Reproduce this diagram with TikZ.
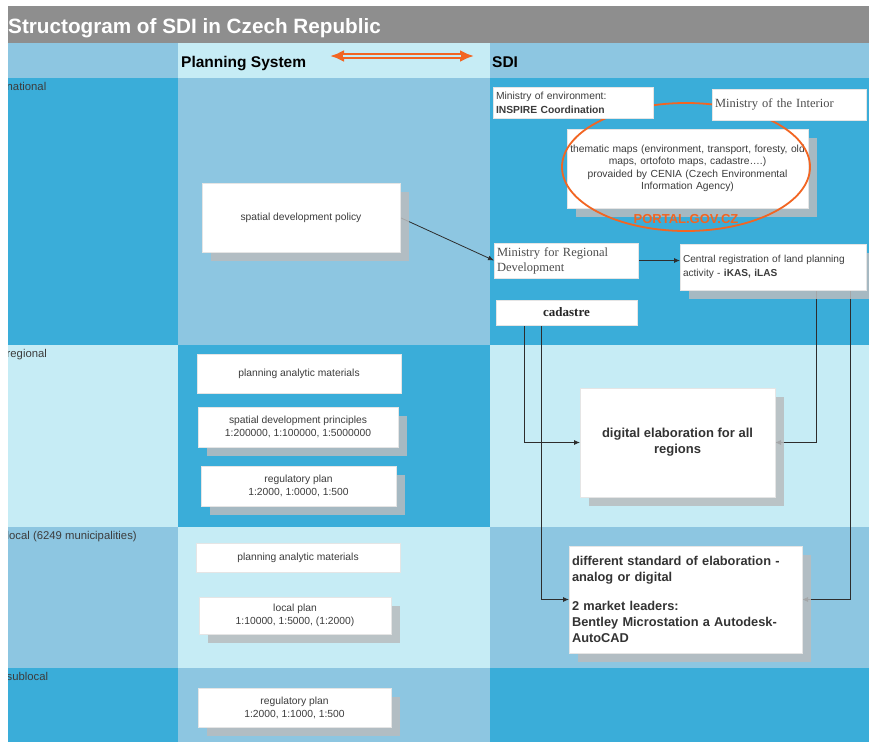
\documentclass[tikz,border=0pt]{standalone}
\usepackage{fontspec}
\setmainfont{Liberation Sans}
\newfontfamily\tnr{Liberation Serif}
\usetikzlibrary{shapes.geometric,shadows,arrows.meta}

\definecolor{cdark}{RGB}{58,173,217}
\definecolor{cmid}{RGB}{141,198,225}
\definecolor{clight}{RGB}{198,236,245}
\definecolor{ctitle}{RGB}{142,142,142}
\definecolor{cshadow}{RGB}{185,188,190}
\definecolor{corange}{RGB}{242,101,34}
\definecolor{ctext}{RGB}{60,60,60}
\definecolor{cline}{RGB}{45,45,45}

\pgfdeclarelayer{bg}
\pgfdeclarelayer{mid}
\pgfsetlayers{bg,mid,main}

\tikzset{
  lbl/.style={anchor=base west, inner sep=0pt, text=ctext, font=\fontsize{11.3}{13}\selectfont},
  hdr/.style={anchor=base west, inner sep=0pt, text=black, font=\bfseries\fontsize{15.5}{17}\selectfont},
  box/.style={rectangle, fill=white, draw=black!10, line width=0.4pt, inner sep=3pt,
              text=ctext, align=center, outer sep=0pt, font=\fontsize{10.3}{13}\selectfont},
  shad/.style={drop shadow={shadow xshift=9pt, shadow yshift=-9pt, fill=cshadow, opacity=0.85, draw=none}},
  serif/.style={font=\tnr\fontsize{12.5}{15}\selectfont, text=black!70},
  conn/.style={draw=cline, line width=0.8pt, -{Latex[length=6pt,width=5pt]}},
}

\begin{document}
\begin{tikzpicture}[x=1pt, y=-1pt]
\useasboundingbox (0,0) rectangle (869,742);

% ---------- table bands ----------
\begin{pgfonlayer}{bg}
  \fill[ctitle] (8,6) rectangle (869,43);
  % header row
  \fill[cmid]   (8,43)   rectangle (178,78);
  \fill[clight] (178,43) rectangle (490,78);
  \fill[cmid]   (490,43) rectangle (869,78);
  % national
  \fill[cdark]  (8,78)   rectangle (178,345);
  \fill[cmid]   (178,78) rectangle (490,345);
  \fill[cdark]  (490,78) rectangle (869,345);
  % regional
  \fill[clight] (8,345)   rectangle (178,527);
  \fill[cdark]  (178,345) rectangle (490,527);
  \fill[clight] (490,345) rectangle (869,527);
  % local
  \fill[cmid]   (8,527)   rectangle (178,668);
  \fill[clight] (178,527) rectangle (490,668);
  \fill[cmid]   (490,527) rectangle (869,668);
  % sublocal
  \fill[cdark]  (8,668)   rectangle (178,742);
  \fill[cmid]   (178,668) rectangle (490,742);
  \fill[cdark]  (490,668) rectangle (869,742);
\end{pgfonlayer}

% ---------- title and headers ----------
\node[anchor=base west, inner sep=0pt, text=white, font=\bfseries\fontsize{20.7}{23}\selectfont] (title) at (8,33) {Structogram of SDI in Czech Republic};
\node[hdr] (hplan) at (181,67) {Planning System};
\node[hdr] (hsdi) at (492,67) {SDI};

\coordinate (dl) at (330,56);
\coordinate (dr) at (474,56);
\draw[corange, line width=5.5pt, {Latex[length=14pt,width=12pt]}-{Latex[length=14pt,width=12pt]}] (dl) -- (dr);
\draw[clight, line width=1.8pt, shorten <=13pt, shorten >=13pt] (dl) -- (dr);

% ---------- row labels (first letter runs under the left margin) ----------
\begin{scope}
  \clip (8,78) rectangle (178,742);
  \node[lbl] (rnat) at (6.5,90) {national};
  \node[lbl] (rreg) at (6.5,357) {regional};
  \node[lbl] (rloc) at (6.5,539) {local (6249 municipalities)};
  \node[lbl] (rsub) at (6.5,680) {sublocal};
\end{scope}

% ---------- planning system ----------
\node[box, shad, minimum width=198pt, minimum height=69pt] (sdp) at (301,217.5) {spatial development policy};
\node[box, minimum width=204pt, minimum height=39pt] (rpam) at (299,373.5) {planning analytic materials};
\node[box, shad, minimum width=200pt, minimum height=40pt] (sdpr) at (298,427) {spatial development principles\\1:200000, 1:100000, 1:5000000};
\node[box, shad, minimum width=195pt, minimum height=40pt] (rrp) at (298.5,486) {regulatory plan\\1:2000, 1:0000, 1:500};
\node[box, minimum width=204pt, minimum height=29pt] (lpam) at (298,557.5) {planning analytic materials};
\node[box, shad, minimum width=192pt, minimum height=37pt] (lplan) at (295,615.5) {local plan\\1:10000, 1:5000, (1:2000)};
\node[box, shad, minimum width=193pt, minimum height=39pt] (srp) at (294.5,707.5) {regulatory plan\\1:2000, 1:1000, 1:500};

% ---------- SDI ----------
\node[box, shad, inner sep=1pt, minimum width=241pt, minimum height=79pt, text width=239pt, font=\fontsize{10.3}{12.5}\selectfont] (them) at (687.5,168.5)
  {thematic maps (environment, transport, foresty, old\\maps, ortofoto maps, cadastre\dots.)\\provaided by CENIA (Czech Environmental\\Information Agency)};
\node[ellipse, draw=corange, line width=1.8pt, minimum width=248pt, minimum height=128pt, inner sep=0pt] (portal) at (686,167) {};
\node[box, minimum width=160pt, minimum height=31pt, text width=154pt, align=left, font=\fontsize{10.3}{14}\selectfont] (menv) at (573,102.5)
  {Ministry of environment:\\\textbf{INSPIRE Coordination}};
\node[box, minimum width=154pt, minimum height=31pt, text width=148pt, align=left, serif] (mint) at (789,104.5) {Ministry of the Interior\\[-5pt]};
\node[anchor=base, inner sep=0pt, text=corange, font=\bfseries\fontsize{13}{15}\selectfont] (ptxt) at (686,223.5) {PORTAL.GOV.CZ};

\node[box, minimum width=144pt, minimum height=35pt, text width=138pt, align=left, serif] (mrd) at (566,260.5) {Ministry for Regional\\Development};
\node[box, shad, minimum width=186pt, minimum height=46pt, text width=180pt, align=left, font=\fontsize{10.1}{14}\selectfont] (creg) at (773,267)
  {Central registration of land planning\\activity - \textbf{iKAS, iLAS}};
\node[box, minimum width=141pt, minimum height=25pt, font=\tnr\bfseries\fontsize{13}{15}\selectfont, text=black!85] (cad) at (566.5,312.5) {cadastre};

\node[box, shad, minimum width=195pt, minimum height=109pt, font=\bfseries\fontsize{13}{16}\selectfont, text=black!80] (dig) at (677.5,442.5)
  {digital elaboration for all\\regions};
\node[box, shad, minimum width=233pt, minimum height=107pt, text width=227pt, align=left, font=\bfseries\fontsize{12.8}{16}\selectfont, text=black!80] (diff) at (685.5,599.5)
  {different standard of elaboration -\\analog or digital\\[13pt]2 market leaders:\\Bentley Microstation a Autodesk-\\AutoCAD};

% ---------- connectors ----------
\begin{pgfonlayer}{mid}
  \draw[conn] (sdp.east) -- (mrd.west);
  \draw[conn] (mrd.east) -- (mrd.east -| creg.west);
  \draw[conn] ([xshift=-42.5pt]cad.south) |- (dig.west);
  \draw[conn] ([xshift=-25.5pt]cad.south) |- (diff.west);
  \draw[conn] ([xshift=43pt]creg.south) |- (dig.east);
  \draw[conn] ([xshift=77pt]creg.south) |- (diff.east);
\end{pgfonlayer}
\end{tikzpicture}
\end{document}
